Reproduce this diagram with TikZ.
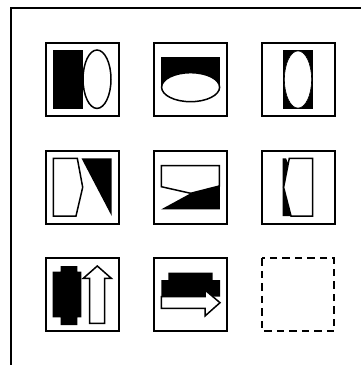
\documentclass[tikz,border=0pt]{standalone}
\begin{document}
\begin{tikzpicture}[x=1pt,y=-1pt,
	cell/.style={draw, line width=1.8pt},
	blank/.style={draw, line width=1.8pt, dash pattern=on 7.5pt off 5pt},
	hollow/.style={draw, fill=white, line width=1.5pt, line join=miter}]
	\useasboundingbox (0,0) rectangle (361,365);
	% outer frame
	\draw[line width=2.2pt] (11,365) -- (11,8) -- (361,8);
	% cells of the grid
	\foreach \c/\r in {0/0,1/0,2/0,0/1,1/1,2/1,0/2,1/2}
		\draw[cell] ({46+108*\c},{43.3+107.5*\r}) rectangle +(73,73);
	\draw[blank] (262,258.3) rectangle +(72.3,72.7);
	% row 1
	\fill (53.3,50) rectangle (83,109);
	\draw[hollow] (97,79.2) ellipse [x radius=14, y radius=29.2];
	\fill (161.3,57.3) rectangle (220,87.2);
	\draw[hollow] (190.6,87.2) ellipse [x radius=29, y radius=14.5];
	\fill (282.7,50) rectangle (313.3,109);
	\draw[hollow, line width=.6pt] (298,79.5) ellipse [x radius=13.6, y radius=28.6];
	% row 2
	\draw[hollow] (53.3,158.3) -- (77.3,158.3) -- (82.7,187.3) -- (76,216) -- (53.3,216) -- cycle;
	\fill (81.5,158.3) -- (111.7,158.3) -- (111.7,216) -- cycle;
	\fill (161.3,209.3) -- (190.7,193.3) -- (219.8,186) -- (219.8,209.3) -- cycle;
	\draw[hollow] (161.3,165.7) -- (219.3,165.7) -- (219.3,186) -- (190.7,193.3) -- (161.3,186.7) -- cycle;
	\fill (282.7,158.3) -- (286,158.3) -- (288.4,164) -- (283.6,187.3) -- (291,216) -- (282.7,216) -- cycle;
	\draw[hollow] (289.3,158.3) -- (312.7,158.3) -- (312.7,216) -- (291,216) -- (283.6,187.3) -- cycle;
	% row 3
	\fill (60.7,266) rectangle (77.3,272) (52.7,271.7) rectangle (81.3,317.3) (60.7,317) rectangle (77.3,325);
	\draw[hollow] (97.3,266) -- (111.3,278.3) -- (104.5,278.3) -- (104.5,323.3) -- (89.7,323.3) -- (89.7,278.3) -- (83.3,278.3) -- cycle;
	\fill (168.3,272.7) rectangle (212.7,280.5) (161.3,280) rectangle (220,296.7);
	\draw[hollow] (161.3,296.7) -- (205,296.7) -- (205,290) -- (220,302.7) -- (205,316) -- (205,308.3) -- (161.3,308.3) -- cycle;
\end{tikzpicture}
\end{document}
